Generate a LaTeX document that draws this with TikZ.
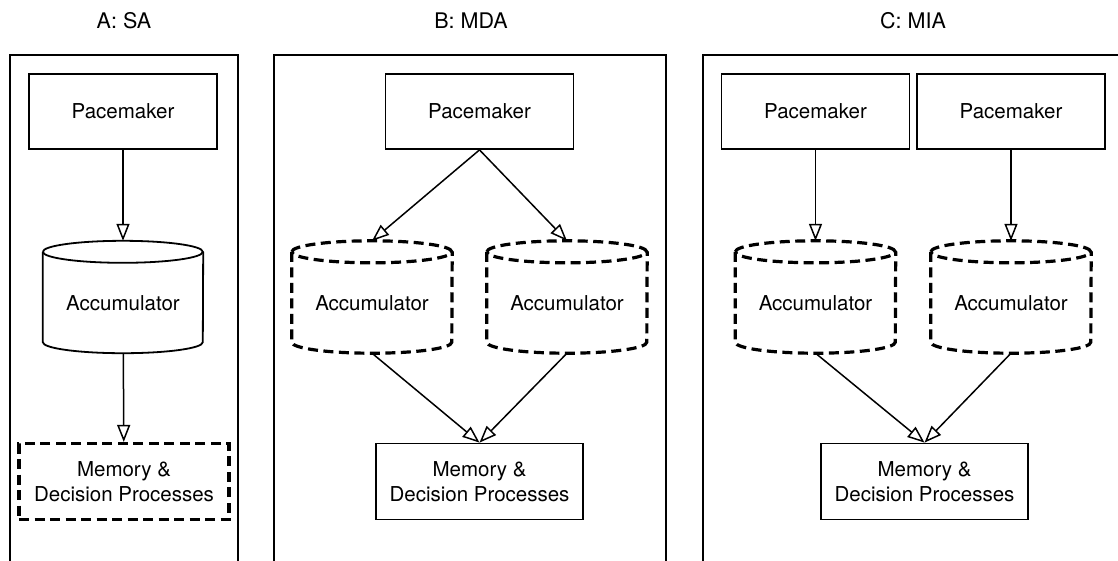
\documentclass[tikz,border=0pt]{standalone}
\usepackage{fontspec}
\setmainfont{TeX Gyre Heros}
\usetikzlibrary{arrows.meta}

\tikzset{
  panel/.style={draw, line width=1.5pt},
  pacebox/.style={draw, line width=1.8pt, minimum width=188pt, minimum height=75pt, inner sep=0pt},
  membox/.style={draw, line width=1.8pt, minimum width=207pt, minimum height=76pt, inner sep=0pt, align=center},
  canbox/.style={minimum width=160pt, minimum height=112pt, inner sep=0pt, text height=29pt, text depth=2pt},
  dashline/.style={line width=3.2pt, dash pattern=on 10pt off 5.5pt},
  conn/.style={line width=1.5pt, -{Triangle[open, length=17pt, width=13pt]}},
}

% outline of an accumulator (cylinder) round a canbox node
\newcommand{\drawcan}[2][]{%
  \draw[line width=1.8pt, #1] ([yshift=-11pt]#2.north west)
    arc[start angle=180, end angle=-180, x radius=80pt, y radius=11pt];
  \draw[line width=1.8pt, #1] ([yshift=-11pt]#2.north west) -- ([yshift=11pt]#2.south west)
    arc[start angle=180, end angle=360, x radius=80pt, y radius=11pt]
    -- ([yshift=-11pt]#2.north east);
}

\begin{document}
\begin{tikzpicture}[x=1pt, y=1pt, font=\fontsize{20.5}{25}\selectfont]
    \useasboundingbox (0,0) rectangle (1118,-560);

    % titles
    \node[font=\fontsize{21.5}{25}\selectfont] (titleA) at (124,-21) {A: SA};
    \node[font=\fontsize{21.5}{25}\selectfont] (titleB) at (471,-21) {B: MDA};
    \node[font=\fontsize{21.5}{25}\selectfont] (titleC) at (913,-21) {C: MIA};

    % panel frames
    \draw[panel] (10,-565) -- (10,-55) -- (238,-55) -- (238,-565);
    \draw[panel] (274,-565) -- (274,-55) -- (666,-55) -- (666,-565);
    \draw[panel] (703,-565) -- (703,-55) -- (1125,-55);

    % A: SA
    \node[pacebox] (paceA) at (123,-111.5) {Pacemaker};
    \node[canbox] (accA) at (123,-297) {Accumulator};
    \drawcan{accA}
    \node[membox, minimum width=210pt, dashline] (memA) at (124,-481.5) {Memory \&\\Decision Processes};

    \draw[conn] (paceA) -- (accA);
    \draw[conn] (accA) -- (memA);

    % B: MDA
    \node[pacebox] (paceB) at (479.5,-111.5) {Pacemaker};
    \node[canbox] (accB1) at (372,-297) {Accumulator};
    \node[canbox] (accB2) at (567,-297) {Accumulator};
    \drawcan[dashline]{accB1}
    \drawcan[dashline]{accB2}
    \node[membox] (memB) at (479.5,-481.5) {Memory \&\\Decision Processes};

    \draw[conn] (paceB.south) -- (accB1.north);
    \draw[conn] (paceB.south) -- (accB2.north);
    \draw[conn] (accB1.south) -- (memB.north);
    \draw[conn] (accB2.south) -- (memB.north);

    % C: MIA
    \node[pacebox] (paceC1) at (815.5,-111.5) {Pacemaker};
    \node[pacebox] (paceC2) at (1011,-111.5) {Pacemaker};
    \node[canbox] (accC1) at (815.5,-297) {Accumulator};
    \node[canbox] (accC2) at (1011,-297) {Accumulator};
    \drawcan[dashline]{accC1}
    \drawcan[dashline]{accC2}
    \node[membox] (memC) at (924.5,-481.5) {Memory \&\\Decision Processes};

    \draw[conn] (paceC1) -- (accC1);
    \draw[conn] (paceC2) -- (accC2);
    \draw[conn] (accC1.south) -- (memC.north);
    \draw[conn] (accC2.south) -- (memC.north);
\end{tikzpicture}
\end{document}
